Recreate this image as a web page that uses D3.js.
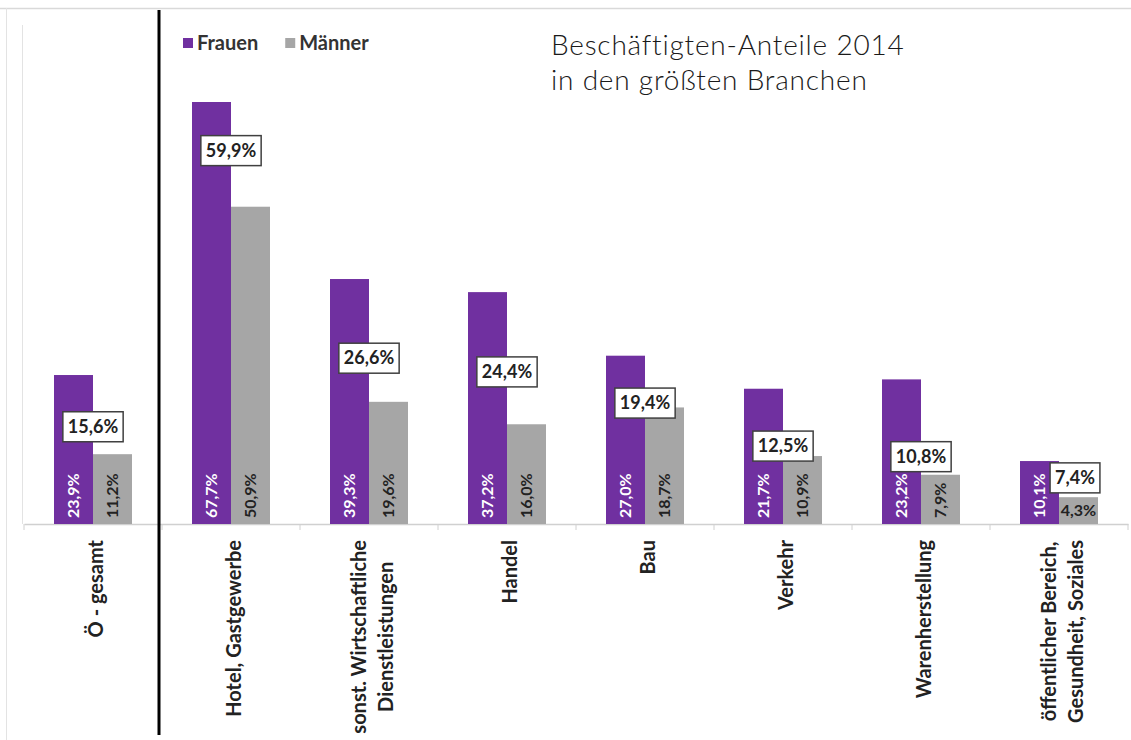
<!DOCTYPE html>
<html>
<head>
<meta charset="utf-8">
<script src="https://cdn.jsdelivr.net/npm/d3@7"></script>
<style>
  html, body { margin: 0; padding: 0; background: #fff; }
  svg { display: block; }
</style>
</head>
<body>
<svg id="chart" width="1131" height="740"></svg>
<script>
const categories = [
  "Ö - gesamt",
  "Hotel, Gastgewerbe",
  "sonst. Wirtschaftliche\nDienstleistungen",
  "Handel",
  "Bau",
  "Verkehr",
  "Warenherstellung",
  "öffentlicher Bereich,\nGesundheit, Soziales"
];
const seriesNames = ["Frauen", "Männer"];
const frauen = [23.9, 67.7, 39.3, 37.2, 27.0, 21.7, 23.2, 10.1];
const maenner = [11.2, 50.9, 19.6, 16.0, 18.7, 10.9, 7.9, 4.3];
const gesamt = [15.6, 59.9, 26.6, 24.4, 19.4, 12.5, 10.8, 7.4];
const titleLines = ["Beschäftigten-Anteile 2014", "in den größten Branchen"];

const colors = { Frauen: "#7030a0", "Männer": "#a6a6a6" };
const fmt = v => d3.format(".1f")(v).replace(".", ",") + "%";
const FONT = "Lato, 'Open Sans', sans-serif";

const svg = d3.select("#chart");
const baseY = 524;

const x = d3.scaleBand().domain(categories).range([24, 1128]).paddingInner(0).paddingOuter(0);
const xs = d3.scaleBand().domain(seriesNames).range([30, 108]);
const y = d3.scaleLinear().domain([0, 67.7]).range([baseY, 102]);

// frame lines
svg.append("line").attr("x1", 0).attr("x2", 1131).attr("y1", 8.5).attr("y2", 8.5)
  .attr("stroke", "#d9d9d9").attr("stroke-width", 1.5);
svg.append("line").attr("x1", 6.5).attr("x2", 6.5).attr("y1", 8).attr("y2", 740)
  .attr("stroke", "#e3e3e3").attr("stroke-width", 1);
svg.append("line").attr("x1", 22.5).attr("x2", 22.5).attr("y1", 25).attr("y2", baseY)
  .attr("stroke", "#e3e3e3").attr("stroke-width", 1);

// x axis baseline with ticks at band edges
const xAxis = d3.axisBottom(x).tickSize(0).tickFormat("");
const gAxis = svg.append("g").attr("transform", `translate(0,${baseY})`).call(xAxis);
gAxis.select(".domain").attr("stroke", "#d0d0d0").attr("stroke-width", 1.5);
const edges = categories.map(c => x(c)).concat([x.range()[1]]);
gAxis.selectAll("line.edge").data(edges).join("line")
  .attr("class", "edge")
  .attr("x1", d => d).attr("x2", d => d).attr("y1", 0).attr("y2", 6)
  .attr("stroke", "#d0d0d0").attr("stroke-width", 1);

// bars
const rows = categories.map((c, i) => ({ c, i, vals: [
  { s: "Frauen", v: frauen[i] }, { s: "Männer", v: maenner[i] }
]}));

const groups = svg.selectAll("g.grp").data(rows).join("g")
  .attr("class", "grp")
  .attr("transform", d => `translate(${x(d.c)},0)`);

groups.selectAll("rect").data(d => d.vals).join("rect")
  .attr("x", d => xs(d.s))
  .attr("width", xs.bandwidth())
  .attr("y", d => y(d.v))
  .attr("height", d => baseY - y(d.v))
  .attr("fill", d => colors[d.s]);

// value labels inside bars
const shortBar = {};
groups.each(function(row) {
  const g = d3.select(this);
  row.vals.forEach(d => {
    const cx = xs(d.s) + xs.bandwidth() / 2;
    const h = baseY - y(d.v);
    const t = g.append("text")
      .text(fmt(d.v))
      .attr("font-family", FONT)
      .attr("font-weight", 700)
      .attr("font-size", 16)
      .attr("fill", d.s === "Frauen" ? "#ffffff" : "#222222");
    const len = t.node().getComputedTextLength();
    if (len + 8 < h) {
      t.attr("transform", `translate(${cx + 5.5},${baseY - 6}) rotate(-90)`)
        .attr("text-anchor", "start");
    } else {
      shortBar[row.i] = true;
      t.attr("x", cx).attr("y", (y(d.v) + baseY) / 2 + 5.5)
        .attr("text-anchor", "middle");
    }
  });
});

// boxed total labels
groups.each(function(row) {
  const g = d3.select(this);
  const cx = xs("Männer") + (shortBar[row.i] ? 16 : 0);
  const cy = y(gesamt[row.i]);
  const box = g.append("rect");
  const t = g.append("text")
    .text(fmt(gesamt[row.i]))
    .attr("x", cx).attr("y", cy + 6)
    .attr("text-anchor", "middle")
    .attr("font-family", FONT)
    .attr("font-weight", 700)
    .attr("font-size", 18)
    .attr("fill", "#222");
  const w = t.node().getComputedTextLength() + 10;
  box.attr("x", cx - w / 2).attr("y", cy - 15).attr("width", w).attr("height", 30)
    .attr("fill", "#fff").attr("stroke", "#404040").attr("stroke-width", 1.5);
});

// category labels (rotated)
const lineGap = 27;
groups.each(function(row) {
  const g = d3.select(this);
  const lines = row.c.split("\n");
  const cx = xs("Männer") + 3;
  const lbl = g.append("g");
  const texts = lines.map((ln, k) => lbl.append("text")
    .text(ln)
    .attr("font-family", FONT)
    .attr("font-weight", 700)
    .attr("font-size", 20)
    .attr("fill", "#222")
    .attr("text-anchor", "middle")
    .attr("dy", "0.35em"));
  const maxLen = d3.max(texts, t => t.node().getComputedTextLength());
  const midY = 540 + maxLen / 2;
  texts.forEach((t, k) => {
    const off = (k - (lines.length - 1) / 2) * lineGap;
    t.attr("transform", `translate(${cx + off},${midY}) rotate(-90)`);
  });
});

// separator line
svg.append("line").attr("x1", 159).attr("x2", 159).attr("y1", 10).attr("y2", 735)
  .attr("stroke", "#000").attr("stroke-width", 3);

// legend
const legend = svg.append("g").attr("transform", "translate(183,0)");
let lx = 0;
seriesNames.forEach(s => {
  legend.append("rect").attr("x", lx).attr("y", 38).attr("width", 10).attr("height", 10)
    .attr("fill", colors[s]);
  const t = legend.append("text").text(s)
    .attr("x", lx + 14).attr("y", 50)
    .attr("font-family", FONT)
    .attr("font-weight", 700).attr("font-size", 20).attr("fill", "#333");
  lx += 14 + t.node().getComputedTextLength() + 27;
});

// title
svg.append("g").selectAll("text").data(titleLines).join("text")
  .text(d => d)
  .attr("x", 551)
  .attr("y", (d, i) => 55 + i * 35)
  .attr("font-family", FONT)
  .attr("font-weight", 300)
  .attr("font-size", 28)
  .attr("letter-spacing", 0.8)
  .attr("fill", "#1a1a1a");
</script>
</body>
</html>
